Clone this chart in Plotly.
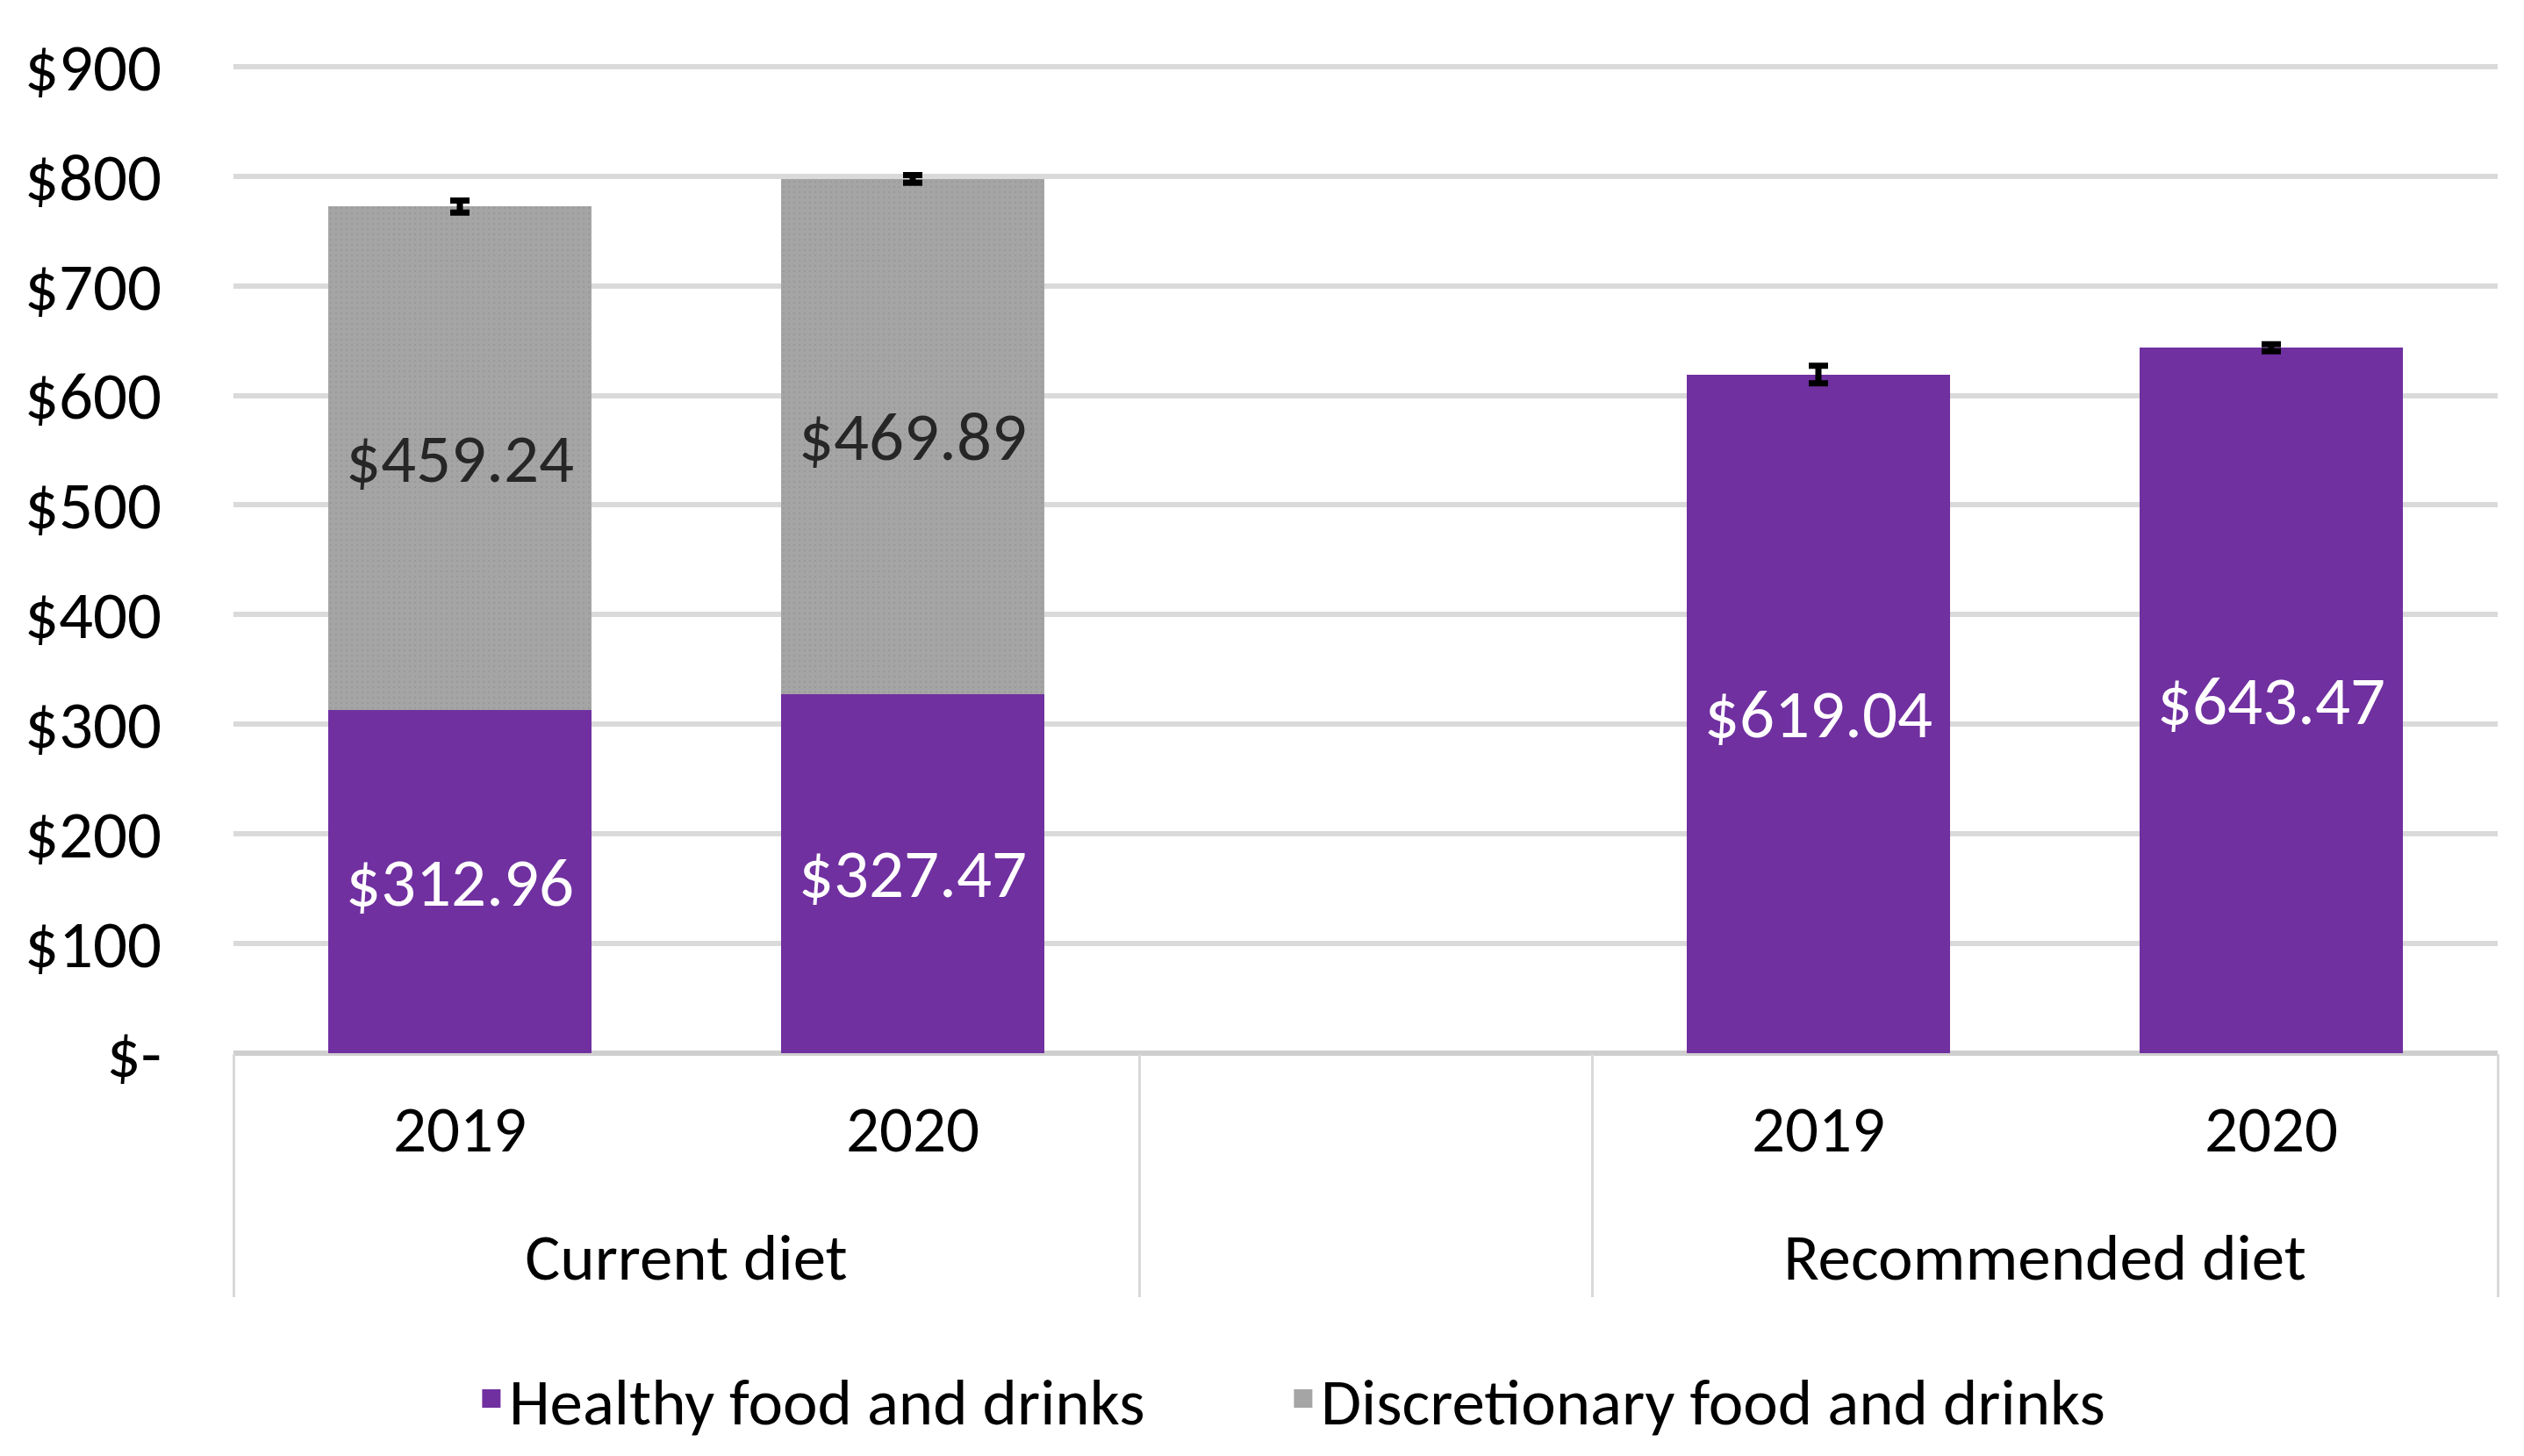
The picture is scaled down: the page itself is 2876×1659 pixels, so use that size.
import plotly.graph_objects as go

# ---- data ----
groups = ["Current diet", "Current diet", " ", "Recommended diet", "Recommended diet"]
years = ["2019", "2020", " ", "2019", "2020"]
healthy = [312.96, 327.47, None, 619.04, 643.47]
discretionary = [459.24, 469.89, None, None, None]
total_err = [5.5, 3.5, None, 8, 3.2]
ytick_vals = [0, 100, 200, 300, 400, 500, 600, 700, 800, 900]
ytick_text = ["$-", "$100", "$200", "$300", "$400", "$500", "$600", "$700", "$800", "$900"]
series_names = ["Healthy food and drinks", "Discretionary food and drinks"]

FONT = "Carlito, Lato, sans-serif"
PURPLE = "#7030A0"
GRAY = "#A5A5A5"

# invisible spacer line under the year labels (pushes the group labels lower)
SPACER = "<br><span style='font-size:40px;color:rgba(0,0,0,0)'>.</span>"
year_ticks = [y + SPACER if y.strip() else y for y in years]
xcats = [groups, year_ticks]


def fmt(vals):
    return [None if v is None else f"${v:,.2f}" for v in vals]


totals = [None if h is None else h + (d or 0) for h, d in zip(healthy, discretionary)]

fig = go.Figure()
fig.add_trace(go.Bar(
    x=xcats, y=healthy, name=series_names[0], showlegend=False, legendgroup="h",
    marker=dict(color=PURPLE, line=dict(width=0)),
    text=fmt(healthy), textposition="inside", insidetextanchor="middle",
    textangle=0, constraintext="none",
    textfont=dict(color="white", size=79, family=FONT),
))
fig.add_trace(go.Bar(
    x=xcats, y=discretionary, name=series_names[1], showlegend=False, legendgroup="d",
    marker=dict(color=GRAY, line=dict(width=0),
                pattern=dict(shape=".", fgcolor="#8f8f8f", bgcolor=GRAY, size=6, solidity=0.15)),
    text=fmt(discretionary), textposition="inside", insidetextanchor="middle",
    textangle=0, constraintext="none",
    textfont=dict(color="#262626", size=79, family=FONT),
))
fig.add_trace(go.Scatter(
    x=xcats, y=totals, mode="markers", showlegend=False, hoverinfo="skip",
    marker=dict(color="rgba(0,0,0,0)", size=1),
    error_y=dict(type="data", array=total_err, color="black", thickness=7, width=11, visible=True),
))
# legend swatches (larger squares than the default bar swatch)
legend_widths = [880, None]
for name, col, grp, lw in zip(series_names, [PURPLE, GRAY], ["h", "d"], legend_widths):
    fig.add_trace(go.Scatter(
        x=[None], y=[None], mode="markers", name=name, legendgroup=grp, showlegend=True,
        legendwidth=lw,
        marker=dict(symbol="square", size=16, color=col, line=dict(color=col, width=5)),
    ))

fig.update_layout(
    width=2876, height=1659,
    barmode="stack", bargap=0.42,
    paper_bgcolor="white", plot_bgcolor="white",
    margin=dict(l=258, r=38, t=64, b=467),
    font=dict(family=FONT, size=75, color="black"),
    legend=dict(orientation="h", x=0.4674, xanchor="center",
                y=-0.349, yanchor="middle", itemsizing="trace",
                font=dict(size=75, family=FONT, color="black"), traceorder="normal",
                itemwidth=30),
    showlegend=True,
)
fig.update_yaxes(
    range=[0, 903], tickvals=ytick_vals, ticktext=ytick_text,
    showgrid=True, gridcolor="#dadada", gridwidth=6,
    zeroline=True, zerolinecolor="#cfcfcf", zerolinewidth=6,
    showline=False, ticks="", ticklabelstandoff=81, automargin=False,
    tickfont=dict(size=77, family=FONT, color="black"),
)
fig.update_xaxes(
    type="multicategory", showdividers=True, dividercolor="#d9d9d9", dividerwidth=3,
    showgrid=False, showline=False, ticks="", ticklabelstandoff=36, automargin=False,
    tickangle=0,
    tickfont=dict(size=75, family=FONT, color="black"),
)

fig.write_html("out.html")
